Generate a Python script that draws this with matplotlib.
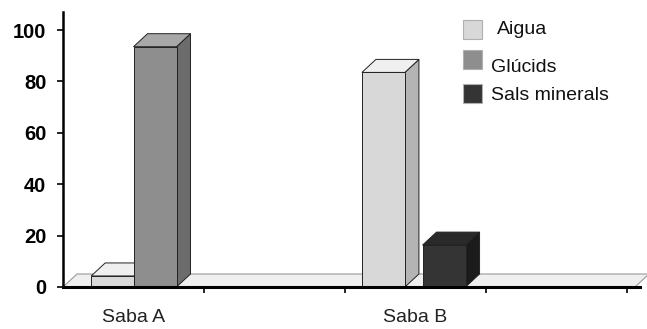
import matplotlib
matplotlib.use("Agg")
import matplotlib.pyplot as plt
from matplotlib.patches import Polygon, Rectangle

# ---- data ----
categories = ["Saba A", "Saba B"]
series = ["Aigua", "Glúcids", "Sals minerals"]
aigua = [4.3, 83.5]
glucids = [93.5, 0]
sals = [0, 16.3]
yticks = [0, 20, 40, 60, 80, 100]

# ---- layout / style ----
cat_pos = [0, 2]
bar_left = [[-0.30, 0.0, 0.30], [-0.38, -0.07, 0.05]]   # left edge of each bar rel. to category
bar_w = 0.305
front = ["#d8d8d8", "#8e8e8e", "#343434"]
top = ["#efefef", "#a8a8a8", "#2a2a2a"]
side = ["#b4b4b4", "#6c6c6c", "#1b1b1b"]

plt.rcParams['font.family'] = ['Liberation Sans', 'DejaVu Sans']
W, H = 647, 329
fig = plt.figure(figsize=(W / 100, H / 100), dpi=100)
ax_l, ax_r, ax_b, ax_t = 63, 640, 287, 12
ax = fig.add_axes([ax_l / W, (H - ax_b) / H, (ax_r - ax_l) / W, (ax_b - ax_t) / H])
px_per_cat = 141.0
px_per_unit = 2.57
xmin = -0.5
xmax = xmin + (ax_r - ax_l) / px_per_cat
ax.set_xlim(xmin, xmax)
ax.set_ylim(0, (ax_b - ax_t) / px_per_unit)

ddx = 14 / px_per_cat
ddy = 13 / px_per_unit

# floor
floor_right = xmin + (635 - ax_l) / px_per_cat
ax.add_patch(Polygon([(xmin, 0), (floor_right, 0), (floor_right + ddx, ddy), (xmin + ddx, ddy)],
                     closed=True, facecolor="#efefef", edgecolor="#9a9a9a", lw=0.8,
                     clip_on=False, zorder=1))

values = [aigua, glucids, sals]
k = 2
for ci, c in enumerate(cat_pos):
    for si in range(len(series)):
        v = values[si][ci]
        if v <= 0:
            continue
        x0 = c + bar_left[ci][si]
        x1 = x0 + bar_w
        k += 1
        ax.add_patch(Polygon([(x1, 0), (x1 + ddx, ddy), (x1 + ddx, v + ddy), (x1, v)],
                             closed=True, facecolor=side[si], edgecolor="#222222", lw=0.7,
                             zorder=k, clip_on=False))
        ax.add_patch(Polygon([(x0, v), (x1, v), (x1 + ddx, v + ddy), (x0 + ddx, v + ddy)],
                             closed=True, facecolor=top[si], edgecolor="#222222", lw=0.7,
                             zorder=k, clip_on=False))
        ax.add_patch(Rectangle((x0, 0), bar_w, v, facecolor=front[si], edgecolor="#222222",
                               lw=0.7, zorder=k, clip_on=False))

# axes styling
for s in ["top", "right"]:
    ax.spines[s].set_visible(False)
ax.spines["left"].set_linewidth(1.8)
ax.spines["bottom"].set_linewidth(2.2)
ax.spines["left"].set_zorder(20)
ax.spines["bottom"].set_zorder(20)

ax.set_yticks(yticks)
ax.set_yticklabels([str(t) for t in yticks], fontsize=14.5, fontweight="bold")
ax.tick_params(axis="y", length=4, width=1.2, pad=8)

ax.set_xticks(cat_pos)
ax.set_xticklabels(categories, fontsize=14, color="#222222")
ax.set_xticks([0.5, 1.5, 2.5, 3.5], minor=True)
ax.tick_params(axis="x", which="major", length=0, pad=16)
ax.tick_params(axis="x", which="minor", length=4, width=1.2)

# legend (drawn manually to follow the reference placement)
leg_sq = [(463, 20), (463, 50), (463, 84)]
leg_txt = [(497, 30), (491, 67), (491, 95)]
for si, name in enumerate(series):
    sx, sy = leg_sq[si]
    fig.patches.append(Rectangle((sx / W, 1 - (sy + 19) / H), 19 / W, 19 / H,
                                 transform=fig.transFigure, facecolor=front[si],
                                 edgecolor="#b0b0b0", lw=0.8))
    tx, ty = leg_txt[si]
    fig.text(tx / W, 1 - ty / H, name, fontsize=14, ha="left", va="center", color="#111111")

fig.savefig("out.png", dpi=100)
